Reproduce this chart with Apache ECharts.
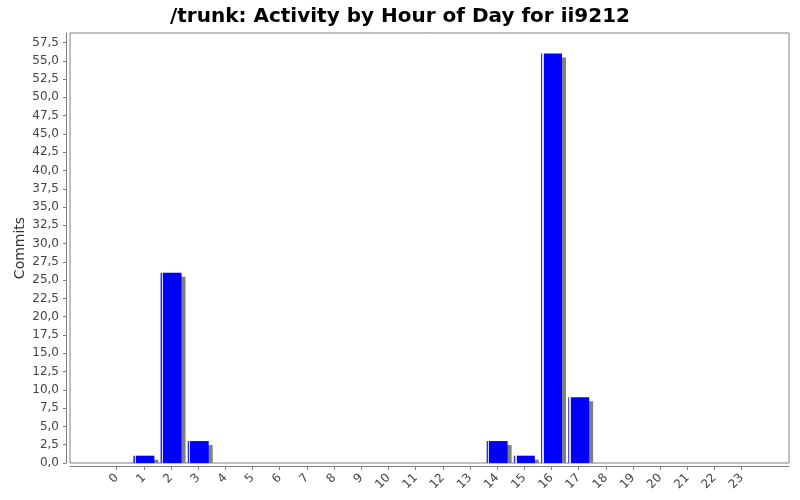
<!DOCTYPE html>
<html>
<head>
<meta charset="utf-8">
<script src="https://cdn.jsdelivr.net/npm/echarts@6/dist/echarts.min.js"></script>
<style>
html,body{margin:0;padding:0;background:#fff;}
#main{width:800px;height:500px;}
</style>
</head>
<body>
<div id="main"></div>
<script>
const titleText = '/trunk: Activity by Hour of Day for ii9212';
const yAxisName = 'Commits';
const hours = ['0','1','2','3','4','5','6','7','8','9','10','11','12','13','14','15','16','17','18','19','20','21','22','23'];
const commits = [0,1,26,3,0,0,0,0,0,0,0,0,0,0,3,1,56,9,0,0,0,0,0,0];
const yTicks = [0,2.5,5,7.5,10,12.5,15,17.5,20,22.5,25,27.5,30,32.5,35,37.5,40,42.5,45,47.5,50,52.5,55,57.5];
const yMax = 58.8;

// layout
const plotTop = 33, plotH = 430;
const pxPerUnit = plotH / yMax;
const shadowDx = 4, shadowDy = 4;

const chart = echarts.init(document.getElementById('main'), null, {renderer:'canvas'});
const font = 'DejaVu Sans';
const barFill = {
  type:'linear', x:0, y:0, x2:1, y2:0,
  colorStops:[
    {offset:0, color:'#2a2aff'},
    {offset:0.06, color:'#2a2aff'},
    {offset:0.06, color:'#d8d8ff'},
    {offset:0.13, color:'#d8d8ff'},
    {offset:0.13, color:'#0000ff'},
    {offset:1, color:'#0000ff'}
  ]
};
chart.setOption({
  animation:false,
  backgroundColor:'#ffffff',
  title:{
    text:titleText, left:'center', top:2,
    textStyle:{fontFamily:font, fontSize:20, fontWeight:'bold', color:'#000'}
  },
  grid:[
    {left:70, top:plotTop, width:719, height:plotH, show:true, borderColor:'#808080', borderWidth:1, backgroundColor:'#fff'},
    {left:103.1, top:plotTop, width:652.2, height:plotH},
    {left:103.1+shadowDx, top:plotTop+shadowDy, width:652.2, height:plotH-shadowDy}
  ],
  xAxis:[
    {gridIndex:0, type:'value', min:0, max:1, position:'bottom', offset:3,
     axisLine:{show:true, onZero:false, lineStyle:{color:'#808080', width:1}},
     axisTick:{show:false}, axisLabel:{show:false}, splitLine:{show:false}},
    {gridIndex:1, type:'category', data:hours, position:'bottom', offset:3,
     axisLine:{show:false, onZero:false},
     axisTick:{show:true, alignWithLabel:true, interval:0, length:4, lineStyle:{color:'#808080'}},
     axisLabel:{interval:0, rotate:45, margin:10, fontFamily:font, fontSize:12, color:'#444'},
     splitLine:{show:false}},
    {gridIndex:2, type:'category', data:hours, show:false}
  ],
  yAxis:[
    {gridIndex:0, type:'value', min:0, max:yMax, offset:4,
     name:yAxisName, nameLocation:'middle', nameGap:39, nameRotate:90, nameMoveOverlap:false,
     nameTextStyle:{fontFamily:font, fontSize:14, color:'#333'},
     axisLine:{show:true, onZero:false, lineStyle:{color:'#808080', width:1}},
     axisTick:{show:true, length:3, customValues:yTicks, lineStyle:{color:'#808080'}},
     axisLabel:{margin:7, customValues:yTicks, fontFamily:font, fontSize:12, color:'#444',
       formatter:v=>v.toFixed(1).replace('.',',')},
     splitLine:{show:false}},
    {gridIndex:1, type:'value', min:0, max:yMax, show:false, splitLine:{show:false}},
    {gridIndex:2, type:'value', min:shadowDy/pxPerUnit, max:yMax, show:false, splitLine:{show:false}}
  ],
  series:[
    {type:'bar', xAxisIndex:2, yAxisIndex:2, data:commits, barWidth:21, clip:true, z:1,
     itemStyle:{color:'#808080'}, silent:true},
    {type:'bar', xAxisIndex:1, yAxisIndex:1, data:commits, barWidth:21, clip:true, z:2,
     itemStyle:{color:barFill}}
  ]
});
</script>
</body>
</html>
